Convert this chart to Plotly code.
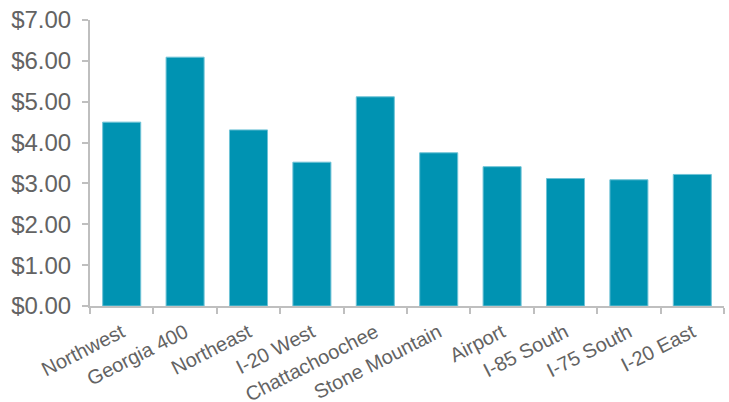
import plotly.graph_objects as go

categories = ["Northwest", "Georgia 400", "Northeast", "I-20 West", "Chattachoochee",
              "Stone Mountain", "Airport", "I-85 South", "I-75 South", "I-20 East"]
values = [4.50, 6.09, 4.31, 3.52, 5.12, 3.75, 3.41, 3.12, 3.09, 3.22]

fig = go.Figure(go.Bar(
    x=categories, y=values,
    marker=dict(color="#0093B2", line=dict(color="#6FC3D6", width=1)),
))

fig.update_layout(
    width=729, height=402,
    margin=dict(l=90, r=5, t=20, b=96),
    paper_bgcolor="white", plot_bgcolor="white",
    bargap=0.4,
    showlegend=False,
    font=dict(family="Liberation Sans, Arial, sans-serif", color="#636363"),
)
fig.update_yaxes(
    range=[0, 7], dtick=1, tickprefix="$", tickformat=".2f",
    showgrid=False, zeroline=False, automargin=False,
    showline=True, linecolor="#BFBFBF", linewidth=2,
    ticks="outside", ticklen=6, tickcolor="#BFBFBF", tickwidth=2,
    ticklabelstandoff=6,
    tickfont=dict(size=24, color="#636363"),
)
fig.update_xaxes(
    showgrid=False, showline=True, linecolor="#BFBFBF", linewidth=2,
    ticks="outside", ticklen=6, tickcolor="#BFBFBF", tickwidth=2,
    tickson="boundaries", tickangle=-27, automargin=False,
    ticklabelstandoff=5,
    tickfont=dict(size=20, color="#636363"),
)

fig.write_html("out.html")
